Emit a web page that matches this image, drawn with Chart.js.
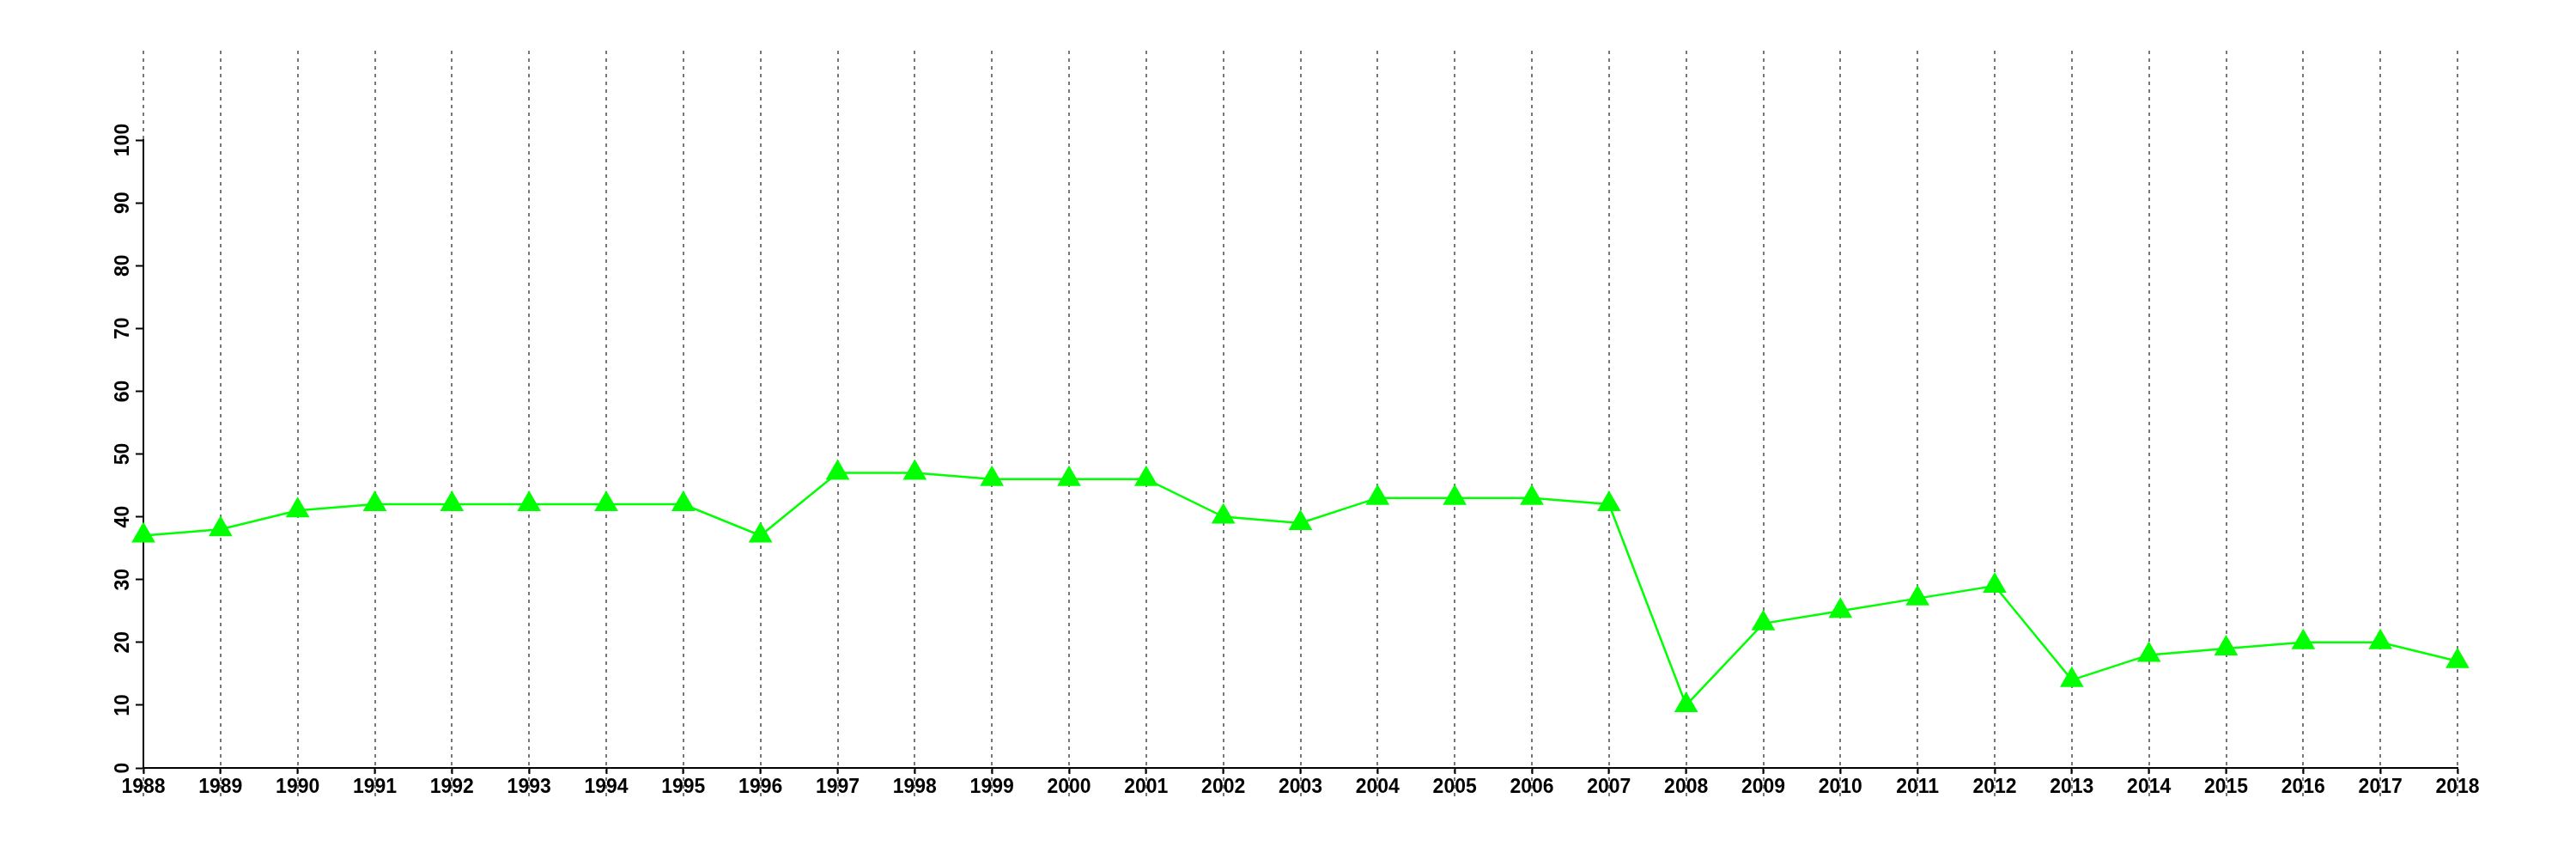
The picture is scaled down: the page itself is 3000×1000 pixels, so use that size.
<html>
	<head>
		<script src="https://cdn.jsdelivr.net/npm/chart.js"></script>
		<style>
			body {
				margin: 0;
				background: white;
			}
			canvas {
				display: block;
			}
		</style>
	</head>
	<body>
		<canvas id="lineChart" width="3000" height="1000"></canvas>

		<script>
			const years = ['1988', '1989', '1990', '1991', '1992', '1993', '1994', '1995', '1996', '1997',
				'1998', '1999', '2000', '2001', '2002', '2003', '2004', '2005', '2006', '2007',
				'2008', '2009', '2010', '2011', '2012', '2013', '2014', '2015', '2016', '2017', '2018'];
			const values = [37, 38, 41, 42, 42, 42, 42, 42, 37, 47,
				47, 46, 46, 46, 40, 39, 43, 43, 43, 42,
				10, 23, 25, 27, 29, 14, 18, 19, 20, 20, 17];
			const yMin = 0;
			const yMax = 100;
			const yStep = 10;

			// dotted vertical lines that run past the plot, through the year labels
			const longGrid = {
				id: 'longGrid',
				beforeDraw(chart) {
					const ctx = chart.ctx;
					const x = chart.scales.x;
					const area = chart.chartArea;
					ctx.save();
					ctx.strokeStyle = '#777777';
					ctx.lineWidth = 2;
					ctx.setLineDash([4, 5]);
					years.forEach((y, i) => {
						const px = Math.round(x.getPixelForValue(i));
						ctx.beginPath();
						ctx.moveTo(px, area.top - 104);
						ctx.lineTo(px, area.bottom + 33);
						ctx.stroke();
					});
					ctx.restore();
				}
			};

			const ctx = document.getElementById('lineChart').getContext('2d');
			const chart = new Chart(ctx, {
				type: 'line',
				data: {
					labels: years,
					datasets: [{
						data: values,
						borderColor: '#00ff00',
						borderWidth: 2.5,
						backgroundColor: '#00ff00',
						pointStyle: 'triangle',
						pointRadius: 16,
						pointBorderWidth: 0,
						fill: false,
						tension: 0
					}]
				},
				options: {
					responsive: false,
					animation: false,
					devicePixelRatio: 1,
					layout: {
						padding: { left: 107, right: 138, top: 163, bottom: 46 }
					},
					plugins: {
						legend: { display: false },
						tooltip: { enabled: false }
					},
					scales: {
						x: {
							grid: {
								drawOnChartArea: false,
								drawTicks: true,
								tickLength: 7,
								tickColor: '#000000',
								tickWidth: 2
							},
							border: { color: '#000000', width: 2 },
							ticks: {
								color: '#000000',
								autoSkip: false,
								maxRotation: 0,
								padding: 2,
								font: { family: 'Liberation Sans', size: 23, weight: 'bold' }
							},
							afterFit: s => { s.height = 60; }
						},
						y: {
							min: yMin,
							max: yMax,
							grid: {
								drawOnChartArea: false,
								drawTicks: true,
								tickLength: 9,
								tickColor: '#000000',
								tickWidth: 2
							},
							border: { color: '#000000', width: 2 },
							ticks: {
								stepSize: yStep,
								color: '#000000',
								minRotation: 90,
								maxRotation: 90,
								crossAlign: 'center',
								padding: -5,
								font: { family: 'Liberation Sans', size: 23, weight: 'bold' }
							},
							afterFit: s => { s.width = 60; }
						}
					}
				},
				plugins: [longGrid]
			});
		</script>
	</body>
</html>
